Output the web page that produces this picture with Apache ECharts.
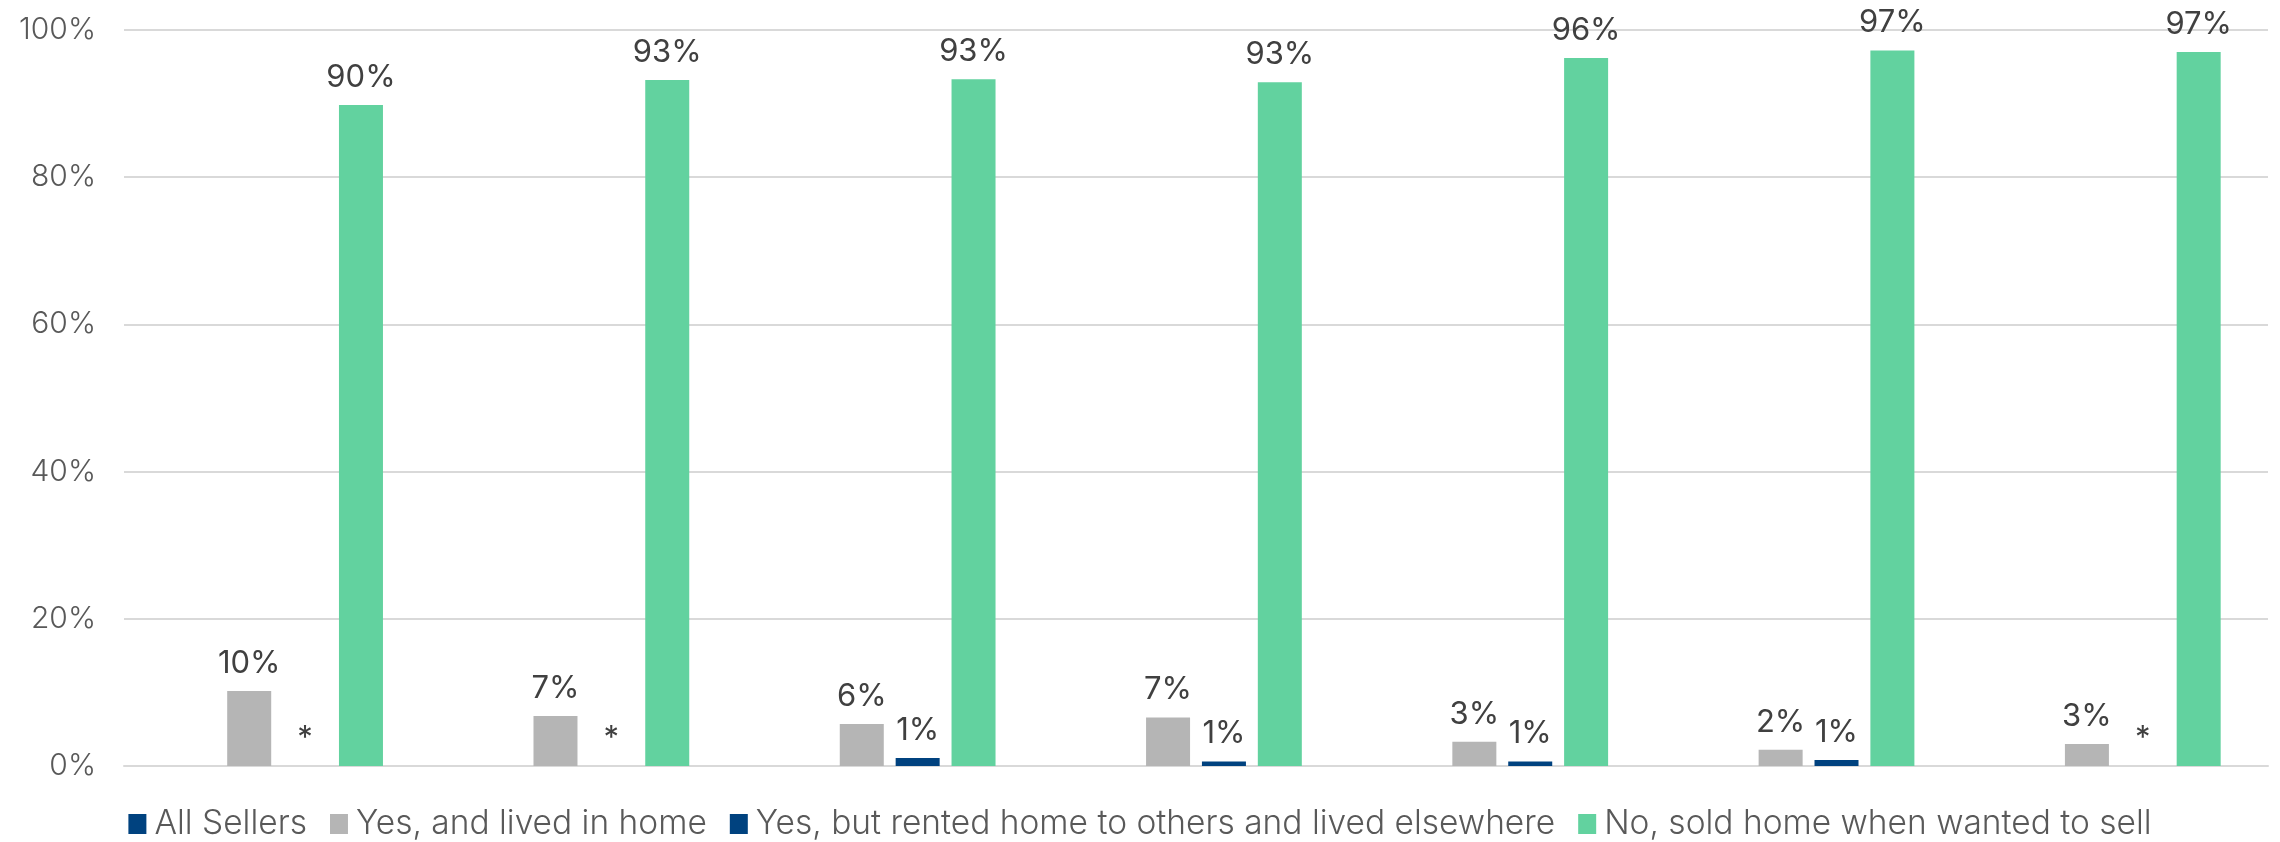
<!DOCTYPE html>
<html>
<head>
<meta charset="utf-8">
<script src="https://cdn.jsdelivr.net/npm/echarts@6/dist/echarts.min.js"></script>
<style>
  html, body { margin: 0; padding: 0; background: #fff; }
  #chart { width: 2280px; height: 842px; }
</style>
</head>
<body>
<div id="chart"></div>
<script>
// groups along the x axis (no labels shown in the original)
const groups = ['G1', 'G2', 'G3', 'G4', 'G5', 'G6', 'G7'];

// "All Sellers" is only a legend entry, it has no bars
const allSellers = [null, null, null, null, null, null, null];
const livedInHome = [10.2, 6.8, 5.7, 6.6, 3.3, 2.2, 3.0];
const rentedOut = [0, 0, 1.1, 0.6, 0.6, 0.8, 0];
const soldWhenWanted = [89.8, 93.2, 93.3, 92.9, 96.2, 97.2, 97.0];

const yTicks = [0, 20, 40, 60, 80, 100];

const FONT = 'Inter';
const labelStyle = {
  show: true,
  position: 'top',
  distance: 12,
  color: '#404040',
  fontFamily: FONT,
  fontSize: 31,
  formatter: p => (p.value === 0 ? '*' : Math.round(p.value) + '%')
};

const chart = echarts.init(document.getElementById('chart'), null, { renderer: 'canvas' });

chart.setOption({
  animation: false,
  backgroundColor: '#fff',
  grid: { left: 124, right: 12, top: 30, bottom: 76, containLabel: false },
  legend: {
    bottom: -4,
    left: 'center',
    icon: 'rect',
    itemWidth: 18,
    itemHeight: 20,
    itemGap: 23,
    textStyle: { color: '#595959', fontFamily: FONT, fontSize: 33.5, fontWeight: 300, padding: [0, 0, 0, 3] },
    data: ['All Sellers', 'Yes, and lived in home', 'Yes, but rented home to others and lived elsewhere', 'No, sold home when wanted to sell']
  },
  xAxis: {
    type: 'category',
    data: groups,
    axisLine: { lineStyle: { color: '#d9d9d9', width: 2 } },
    axisTick: { show: false },
    axisLabel: { show: false }
  },
  yAxis: {
    type: 'value',
    min: yTicks[0],
    max: yTicks[yTicks.length - 1],
    interval: 20,
    axisLine: { show: false },
    axisTick: { show: false },
    splitLine: { lineStyle: { color: '#d9d9d9', width: 2 } },
    axisLabel: {
      formatter: '{value}%',
      color: '#595959',
      fontFamily: FONT,
      fontSize: 30,
      fontWeight: 300,
      margin: 28
    }
  },
  series: [
    { name: 'All Sellers', type: 'bar', data: allSellers, barWidth: 44, barGap: '27%', itemStyle: { color: '#00427f' } },
    { name: 'Yes, and lived in home', type: 'bar', data: livedInHome, barWidth: 44, barGap: '27%', itemStyle: { color: '#b5b5b5' }, label: labelStyle },
    { name: 'Yes, but rented home to others and lived elsewhere', type: 'bar', data: rentedOut, barWidth: 44, barGap: '27%', itemStyle: { color: '#00427f' }, label: labelStyle },
    { name: 'No, sold home when wanted to sell', type: 'bar', data: soldWhenWanted, barWidth: 44, barGap: '27%', itemStyle: { color: '#62d29f' }, label: labelStyle }
  ]
});
</script>
</body>
</html>
